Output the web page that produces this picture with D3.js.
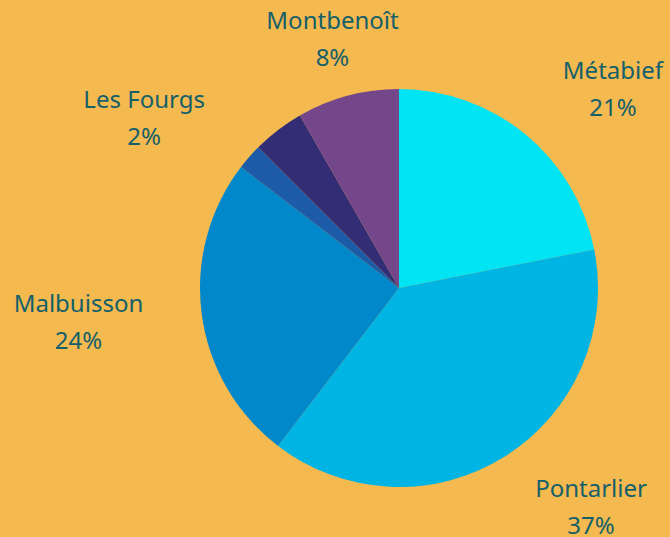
<!DOCTYPE html>
<html>
<head>
<meta charset="utf-8">
<script src="https://cdn.jsdelivr.net/npm/d3@7"></script>
<style>
    html, body { margin: 0; padding: 0; background: #f4b94f; }
    #chart { width: 670px; height: 537px; }
    .label text { font-family: "Noto Sans", sans-serif; fill: #14606a; font-size: 24px; }
</style>
</head>
<body>
<div id="chart"></div>
<script>
// slices, clockwise from 12 o'clock
let towns = ["Métabief", "Pontarlier", "Malbuisson", "Les Fourgs", "", "Montbenoît"];
let shares = [21.9, 38.5, 25.0, 2.1, 4.2, 8.3];
let pctLabels = ["21%", "37%", "24%", "2%", "", "8%"];
let colors = ["#00e4f3", "#00b5e4", "#0088cb", "#1c5ba8", "#332d76", "#74478b"];

let width = 670, height = 537;
let cx = 399, cy = 288;
let radius = 199;
let labelRadius = 258;

let svg = d3.select("#chart").append("svg")
    .attr("width", width)
    .attr("height", height);

let g = svg.append("g")
    .attr("transform", `translate(${cx}, ${cy})`);

let data = towns.map((t, i) => ({name: t, value: shares[i], pct: pctLabels[i], color: colors[i]}));

let pie = d3.pie()
    .sort(null)
    .value(d => d.value);

let arc = d3.arc()
    .innerRadius(0)
    .outerRadius(radius);

let arcs = pie(data);

g.selectAll(".slice")
    .data(arcs)
    .enter().append("path")
    .attr("class", "slice")
    .attr("d", arc)
    .attr("fill", d => d.data.color);

// labels outside on the mid angle, block pushed away from the pie
let labels = g.selectAll(".label")
    .data(arcs.filter(d => d.data.name !== ""))
    .enter().append("g")
    .attr("class", "label");

labels.append("text")
    .attr("class", "name")
    .attr("y", -10)
    .attr("text-anchor", "middle")
    .text(d => d.data.name);

labels.append("text")
    .attr("y", 27)
    .attr("text-anchor", "middle")
    .text(d => d.data.pct);

labels.attr("transform", function(d) {
    let a = (d.startAngle + d.endAngle) / 2;
    let s = Math.sin(a);
    let w = d3.select(this).select(".name").node().getComputedTextLength();
    let shift = Math.abs(s) < 0.3 ? 0 : (s > 0 ? w / 2 : -w / 2);
    return `translate(${labelRadius * s + shift}, ${-labelRadius * Math.cos(a)})`;
});
</script>
</body>
</html>
